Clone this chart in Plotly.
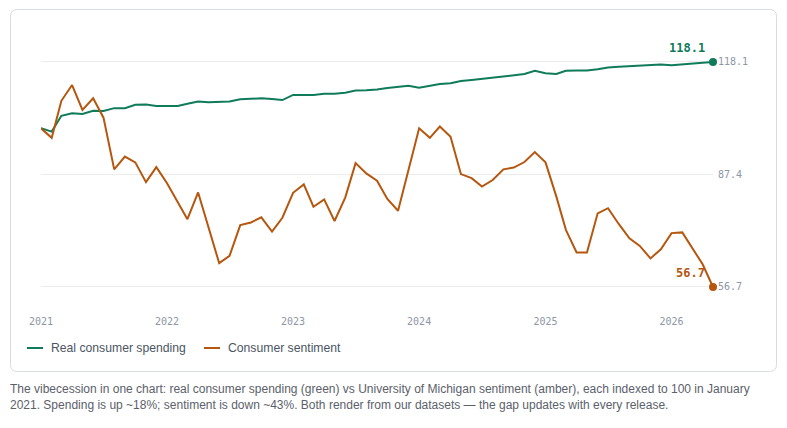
import pandas as pd
import plotly.graph_objects as go

# ---- data ----
months = pd.date_range("2021-01-01", "2026-05-01", freq="MS")

spending = [100.0, 99.1, 103.4, 104.1, 103.9, 104.8, 104.7, 105.5, 105.5, 106.4,
            106.5, 106.1, 106.1, 106.1, 106.7, 107.3, 107.1, 107.2, 107.3, 107.9,
            108.0, 108.2, 108.0, 107.7, 109.1, 109.1, 109.1, 109.4, 109.4, 109.7,
            110.3, 110.4, 110.6, 111.0, 111.3, 111.6, 111.1, 111.6, 112.1, 112.3,
            112.9, 113.2, 113.5, 113.7, 114.1, 114.4, 114.8, 115.7, 115.0, 114.8,
            115.7, 115.8, 115.8, 116.1, 116.6, 116.8, 116.9, 117.0, 117.3, 117.4,
            117.2, 117.5, 117.8, 117.9, 118.1]

sentiment = [100.0, 97.4, 107.5, 111.8, 105.0, 108.2, 102.9, 88.8, 92.3, 90.7,
             85.3, 89.4, 85.0, 80.0, 75.2, 82.5, 73.2, 63.2, 65.2, 73.6,
             74.3, 75.7, 71.8, 75.6, 82.4, 84.7, 78.6, 80.6, 74.7, 81.1,
             90.5, 87.7, 85.7, 80.7, 77.5, 88.9, 100.0, 97.4, 100.5, 97.7,
             87.5, 86.4, 84.1, 85.9, 88.8, 89.3, 90.8, 93.5, 90.7, 81.5,
             72.3, 66.1, 66.1, 76.8, 78.2, 73.9, 70.0, 67.9, 64.5, 67.0,
             71.4, 71.6, 67.3, 62.9, 56.7]

series_names = ["Real consumer spending", "Consumer sentiment"]
y_tick_vals = [56.7, 87.4, 118.1]
x_tick_vals = ["2021-01-01", "2022-01-01", "2023-01-01", "2024-01-01", "2025-01-01", "2026-01-01"]
x_tick_text = ["2021", "2022", "2023", "2024", "2025", "2026"]
caption = ("The vibecession in one chart: real consumer spending (green) vs University of Michigan "
           "sentiment (amber), each indexed to 100 in January<br>2021. Spending is up ~18%; sentiment "
           "is down ~43%. Both render from our datasets \u2014 the gap updates with every release.")

GREEN = "#0f7b5a"
AMBER = "#b5570f"
TICK = "#8d96a5"
MONO = "DejaVu Sans Mono"
SANS = "Liberation Sans"

# ---- layout geometry (pixels) ----
W, H = 787, 428
PL, PR, PT, PB = 41, 713, 55, 311


def px(x):
    return (x - PL) / (PR - PL)


def py(y):
    return (PB - y) / (PB - PT)


fig = go.Figure()
for vals, name, col in [(spending, series_names[0], GREEN), (sentiment, series_names[1], AMBER)]:
    fig.add_trace(go.Scatter(x=months, y=vals, mode="lines", name=name,
                             line=dict(color=col, width=2), cliponaxis=False,
                             hoverinfo="skip", showlegend=False))
    fig.add_trace(go.Scatter(x=[months[-1]], y=[vals[-1]], mode="markers",
                             marker=dict(color=col, size=8), cliponaxis=False,
                             hoverinfo="skip", showlegend=False))
    fig.add_annotation(x=months[-1], y=vals[-1], text="<b>%.1f</b>" % vals[-1],
                       showarrow=False, xanchor="right", yanchor="bottom",
                       xshift=-6, yshift=5, font=dict(family=MONO, size=12, color=col))

# card
x0, x1, y0, y1, r = 10.5, 776.5, 9.5, 371.5, 7
path = (f"M {px(x0 + r)},{py(y0)} L {px(x1 - r)},{py(y0)} "
        f"Q {px(x1)},{py(y0)} {px(x1)},{py(y0 + r)} L {px(x1)},{py(y1 - r)} "
        f"Q {px(x1)},{py(y1)} {px(x1 - r)},{py(y1)} L {px(x0 + r)},{py(y1)} "
        f"Q {px(x0)},{py(y1)} {px(x0)},{py(y1 - r)} L {px(x0)},{py(y0 + r)} "
        f"Q {px(x0)},{py(y0)} {px(x0 + r)},{py(y0)} Z")
fig.add_shape(type="path", xref="paper", yref="paper", path=path,
              line=dict(color="#d8dce2", width=1), fillcolor="rgba(0,0,0,0)", layer="below")

# custom legend
for (lx, tx, name, col) in [(27, 49, series_names[0], GREEN), (204, 226, series_names[1], AMBER)]:
    fig.add_shape(type="line", xref="paper", yref="paper",
                  x0=px(lx), x1=px(lx + 16), y0=py(348), y1=py(348),
                  line=dict(color=col, width=2))
    fig.add_annotation(xref="paper", yref="paper", x=px(tx), y=py(348), text=name,
                       showarrow=False, xanchor="left", yanchor="middle",
                       font=dict(family=SANS, size=12.2, color="#4b5563"))

fig.add_annotation(xref="paper", yref="paper", x=px(8), y=py(380), text=caption,
                   showarrow=False, xanchor="left", yanchor="top", align="left",
                   font=dict(family=SANS, size=12, color="#5b616b"))

fig.update_layout(
    width=W, height=H,
    margin=dict(l=PL, r=W - PR, t=PT, b=H - PB),
    paper_bgcolor="white", plot_bgcolor="white",
    xaxis=dict(type="date", range=[months[0], months[-1]], tickvals=x_tick_vals,
               ticktext=x_tick_text, showgrid=False, zeroline=False, showline=False,
               ticks="", ticklabelstandoff=3,
               tickfont=dict(family=MONO, size=10, color=TICK)),
    yaxis=dict(range=[50.15, 120.0], tickvals=y_tick_vals, ticktext=[str(v) for v in y_tick_vals],
               side="right", showgrid=True, gridcolor="#ececec", gridwidth=1,
               zeroline=False, showline=False, ticks="", ticklabelstandoff=4,
               tickfont=dict(family=MONO, size=10, color=TICK)),
    showlegend=False,
)

fig.write_html("out.html")
